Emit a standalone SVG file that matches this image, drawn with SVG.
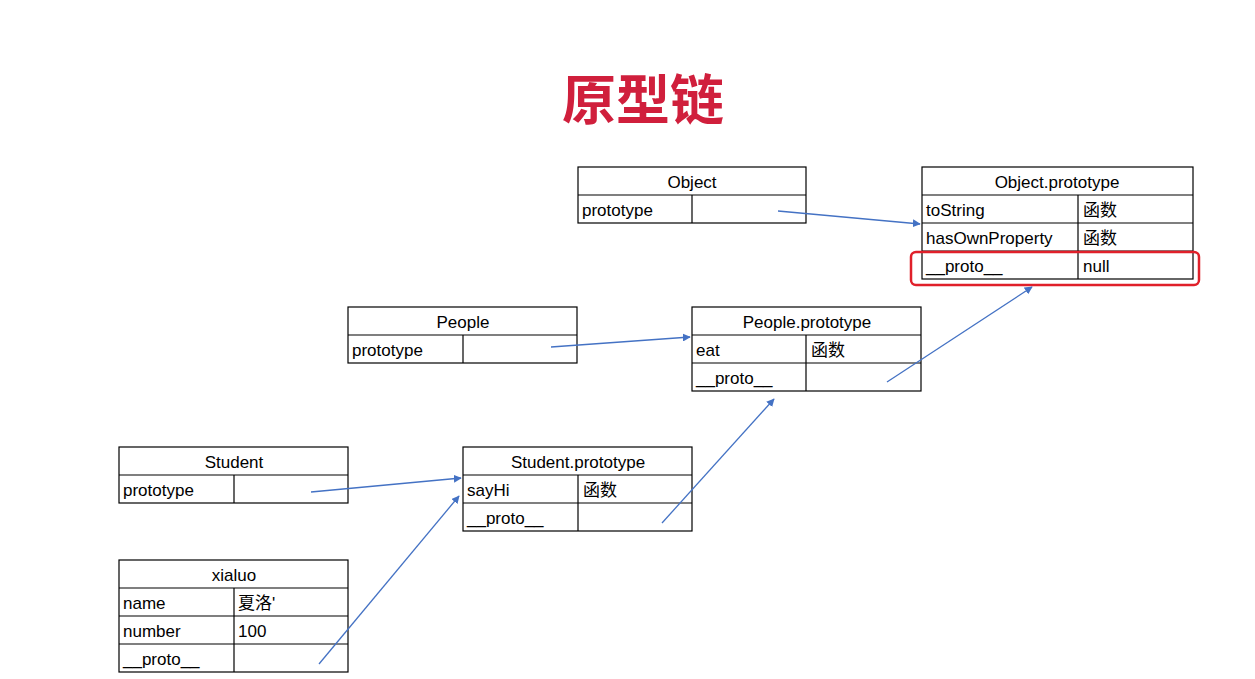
<svg xmlns="http://www.w3.org/2000/svg" width="1255" height="679" viewBox="0 0 1255 679">
<style>
.c{fill:#fff;stroke:#000;stroke-width:1.2}
.t{font-family:"Liberation Sans","Noto Sans CJK SC",sans-serif;font-size:17px;fill:#000}
.m{text-anchor:middle}
.a{stroke:#4472c4;stroke-width:1.3;fill:none;marker-end:url(#ah)}
</style>
<defs><marker id="ah" viewBox="0 0 10 10" refX="9" refY="5" markerWidth="8" markerHeight="8" markerUnits="userSpaceOnUse" orient="auto"><path d="M0,0L10,5L0,10z" fill="#4472c4"/></marker></defs>
<rect width="1255" height="679" fill="#fff"/>
<text x="643" y="120" text-anchor="middle" font-family="'Noto Sans CJK SC',sans-serif" font-weight="bold" font-size="54" fill="#d01f3c">原型链</text>

<g id="object">
<rect class="c" x="578" y="167" width="228" height="56"/>
<line class="c" x1="578" y1="195" x2="806" y2="195"/><line class="c" x1="692" y1="195" x2="692" y2="223"/>
<text class="t m" x="692" y="188">Object</text><text class="t" x="582" y="216">prototype</text>
</g>
<g id="object-prototype">
<rect class="c" x="922" y="167" width="271" height="112"/>
<line class="c" x1="922" y1="195" x2="1193" y2="195"/><line class="c" x1="922" y1="223" x2="1193" y2="223"/><line class="c" x1="922" y1="251" x2="1193" y2="251"/>
<line class="c" x1="1078" y1="195" x2="1078" y2="279"/>
<text class="t m" x="1057" y="188">Object.prototype</text>
<text class="t" x="926" y="216">toString</text><text class="t" x="1083" y="216">函数</text>
<text class="t" x="926" y="244">hasOwnProperty</text><text class="t" x="1083" y="244">函数</text>
<text class="t" x="926" y="272">__proto__</text><text class="t" x="1083" y="272">null</text>
<rect x="911" y="252" width="288" height="33" rx="5" fill="none" stroke="#e0202a" stroke-width="2.5"/>
</g>
<g id="people">
<rect class="c" x="348" y="307" width="229" height="56"/>
<line class="c" x1="348" y1="335" x2="577" y2="335"/><line class="c" x1="463" y1="335" x2="463" y2="363"/>
<text class="t m" x="463" y="328">People</text><text class="t" x="352" y="356">prototype</text>
</g>
<g id="people-prototype">
<rect class="c" x="692" y="307" width="229" height="84"/>
<line class="c" x1="692" y1="335" x2="921" y2="335"/><line class="c" x1="692" y1="363" x2="921" y2="363"/><line class="c" x1="806" y1="335" x2="806" y2="391"/>
<text class="t m" x="807" y="328">People.prototype</text>
<text class="t" x="696" y="356">eat</text><text class="t" x="811" y="356">函数</text>
<text class="t" x="696" y="384">__proto__</text>
</g>
<g id="student">
<rect class="c" x="119" y="447" width="229" height="56"/>
<line class="c" x1="119" y1="475" x2="348" y2="475"/><line class="c" x1="234" y1="475" x2="234" y2="503"/>
<text class="t m" x="234" y="468">Student</text><text class="t" x="123" y="496">prototype</text>
</g>
<g id="student-prototype">
<rect class="c" x="463" y="447" width="229" height="84"/>
<line class="c" x1="463" y1="475" x2="692" y2="475"/><line class="c" x1="463" y1="503" x2="692" y2="503"/><line class="c" x1="578" y1="475" x2="578" y2="531"/>
<text class="t m" x="578" y="468">Student.prototype</text>
<text class="t" x="467" y="496">sayHi</text><text class="t" x="583" y="496">函数</text>
<text class="t" x="467" y="524">__proto__</text>
</g>
<g id="xialuo">
<rect class="c" x="119" y="560" width="229" height="112"/>
<line class="c" x1="119" y1="588" x2="348" y2="588"/><line class="c" x1="119" y1="616" x2="348" y2="616"/><line class="c" x1="119" y1="644" x2="348" y2="644"/>
<line class="c" x1="234" y1="588" x2="234" y2="672"/>
<text class="t m" x="234" y="581">xialuo</text>
<text class="t" x="123" y="609">name</text><text class="t" x="238" y="609">夏洛'</text>
<text class="t" x="123" y="637">number</text><text class="t" x="238" y="637">100</text>
<text class="t" x="123" y="665">__proto__</text>
</g>
<g id="connectors">
<line class="a" x1="778" y1="211" x2="920" y2="224"/>
<line class="a" x1="551" y1="347" x2="690" y2="337"/>
<line class="a" x1="887" y1="382" x2="1032" y2="287"/>
<line class="a" x1="311" y1="492" x2="461" y2="478"/>
<line class="a" x1="662" y1="523" x2="774" y2="399"/>
<line class="a" x1="319" y1="664" x2="459" y2="496"/>
</g>
</svg>
